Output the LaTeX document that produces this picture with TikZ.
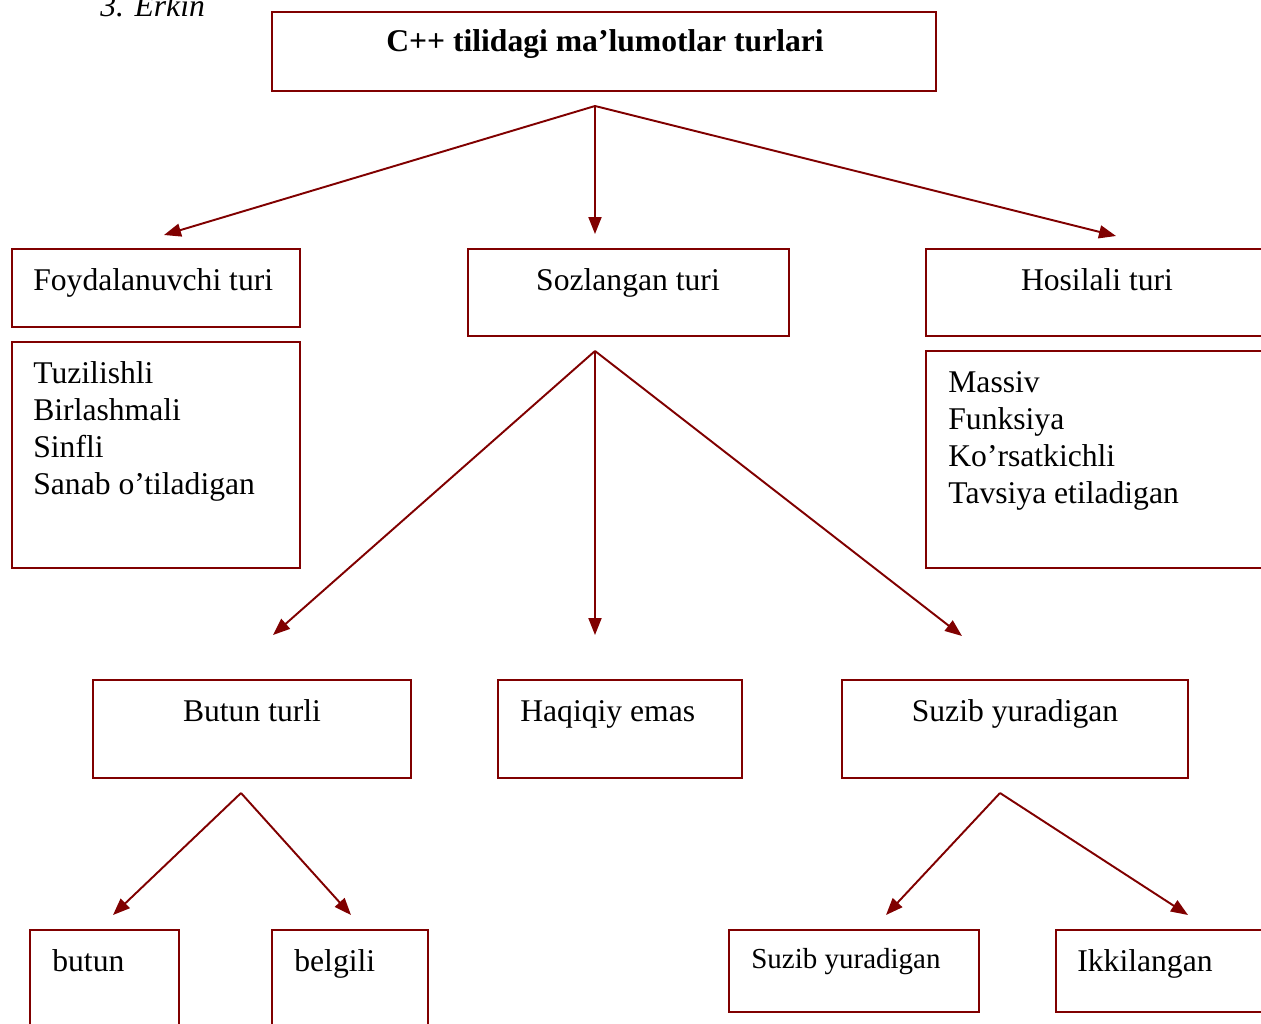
\documentclass[tikz,border=0pt]{standalone}
\usepackage{fontspec}
\setmainfont{Liberation Serif}
\usetikzlibrary{arrows.meta, fit}
\definecolor{boxred}{RGB}{128,0,0}

\begin{document}
\begin{tikzpicture}[x=0.02cm, y=-0.02cm,
    box/.style={draw=boxred, line width=1.6pt, inner sep=0pt},
    txt/.style={font=\fontsize{18}{21}\selectfont, inner sep=0pt},
    link/.style={draw=boxred, line width=1.1pt, -{Triangle[length=0.34cm, width=0.26cm]}}]
  \useasboundingbox (0,0) rectangle (1261,1024);
  \clip (0,0) rectangle (1261,1024);

  \node[txt, font=\fontsize{18}{21}\selectfont\itshape, anchor=base west] (erkin) at (100,17) {3. Erkin};

  % boxes
  \foreach \nm/\xa/\ya/\xb/\yb in {root/272/12/936/91, foyd/12/249/300/327, soz/468/249/789/336,
      hos/926/249/1300/336, foydlist/12/342/300/568, hoslist/926/351/1300/568,
      butun/93/680/411/778, haq/498/680/742/778, suzib/842/680/1188/778,
      but/30/930/179/1100, bel/272/930/428/1100, suz/729/930/979/1012, ikki/1056/930/1300/1012} {
    \node[box, fit={(\xa,\ya) (\xb,\yb)}] (\nm) {};
  }

  % texts
  \node[txt, font=\fontsize{18}{21}\selectfont\bfseries, anchor=base] (root-t) at (605,52) {C++ tilidagi ma’lumotlar turlari};
  \node[txt, anchor=base west] (foyd-t) at (33,290) {Foydalanuvchi turi};
  \node[txt, anchor=base] (soz-t) at (628,290) {Sozlangan turi};
  \node[txt, anchor=base] (hos-t) at (1097,290) {Hosilali turi};
  \foreach \t [count=\k] in {Tuzilishli, Birlashmali, Sinfli, Sanab o’tiladigan}
    \node[txt, anchor=base west] (fl\k) at (33,346+37*\k) {\t};
  \foreach \t [count=\k] in {Massiv, Funksiya, Ko’rsatkichli, Tavsiya etiladigan}
    \node[txt, anchor=base west] (hl\k) at (948,355+37*\k) {\t};
  \node[txt, anchor=base] (butun-t) at (252,721) {Butun turli};
  \node[txt, anchor=base west] (haq-t) at (520,721) {Haqiqiy emas};
  \node[txt, anchor=base] (suzib-t) at (1015,721) {Suzib yuradigan};
  \node[txt, anchor=base west] (but-t) at (52,971) {butun};
  \node[txt, anchor=base west] (bel-t) at (294,971) {belgili};
  \node[txt, font=\fontsize{16.5}{20}\selectfont, anchor=base west] (suz-t) at (751,968) {Suzib yuradigan};
  \node[txt, anchor=base west] (ikki-t) at (1077,971) {Ikkilangan};

  % connectors
  \coordinate (r) at (595,106);
  \coordinate (r1) at (164,235);
  \coordinate (r2) at (595,234);
  \coordinate (r3) at (1116,236);
  \coordinate (s) at (595,351);
  \coordinate (s1) at (273,635);
  \coordinate (s2) at (595,635);
  \coordinate (s3) at (962,636);
  \coordinate (b) at (241,793);
  \coordinate (b1) at (113,915);
  \coordinate (b2) at (351,915);
  \coordinate (f) at (1000,793);
  \coordinate (f1) at (886,915);
  \coordinate (f2) at (1188,915);
  \foreach \e in {r1,r2,r3} \draw[link] (r) -- (\e);
  \foreach \e in {s1,s2,s3} \draw[link] (s) -- (\e);
  \foreach \e in {b1,b2} \draw[link] (b) -- (\e);
  \foreach \e in {f1,f2} \draw[link] (f) -- (\e);
\end{tikzpicture}
\end{document}
